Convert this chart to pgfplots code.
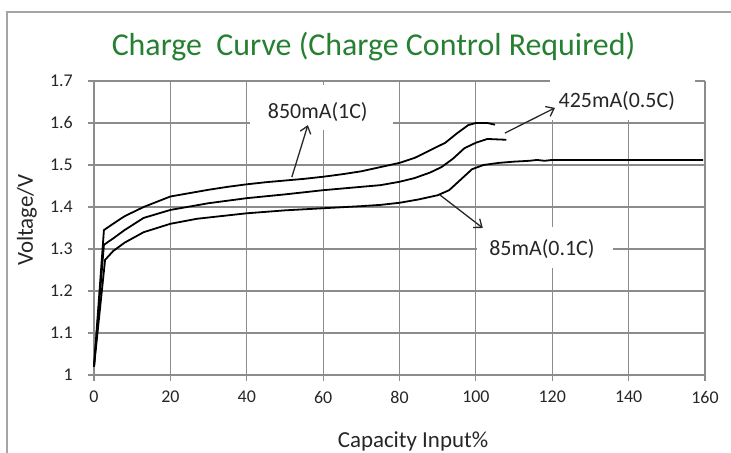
\documentclass[border=0pt]{standalone}
\usepackage{pgfplots}
\pgfplotsset{compat=1.18}
\usepackage{fontspec}
\setmainfont{Carlito}
\usetikzlibrary{arrows.meta}
\definecolor{gridgray}{RGB}{140,140,140}
\definecolor{framegray}{RGB}{165,165,165}
\definecolor{titlegreen}{RGB}{38,128,50}
\begin{document}
\begin{tikzpicture}[x=1bp,y=1bp]
\draw[framegray, line width=1.2bp] (7,-10) -- (7,441) -- (740,441);
\begin{axis}[
  at={(94bp,78bp)}, anchor=south west,
  width=611bp, height=294bp, scale only axis,
  xmin=0, xmax=160, ymin=1, ymax=1.7,
  xtick={0,20,...,160}, ytick={1,1.1,...,1.7},
  axis lines=left, axis line style={-, draw=gridgray, line width=1.2bp},
  grid=major, major grid style={draw=gridgray, line width=1.2bp},
  tick style={draw=gridgray, line width=1.2bp},
  tick align=outside, major tick length=6bp,
  /pgf/number format/assume math mode=true,
  /pgf/number format/fixed,
  tick label style={font=\fontsize{18}{20}\selectfont, text=black!85},
  yticklabel style={anchor=east, inner sep=0pt, xshift=-15bp},
  xticklabel style={anchor=north, inner sep=0pt, yshift=-10bp},
  clip=false,
]
% 850mA (1C)
\addplot[black, line width=1.8bp] coordinates {
(0,1.02) (2.6,1.345) (5,1.36) (8,1.378) (13,1.40) (20,1.425) (25,1.433) (30,1.441) (35,1.448) (40,1.454) (45,1.459) (50,1.463) (55,1.467) (60,1.472) (65,1.478) (70,1.485) (75,1.495) (80,1.505) (84,1.517) (88,1.535) (92,1.553) (95,1.575) (98,1.595) (100,1.600) (103,1.600) (105,1.596)
};
% 425mA (0.5C)
\addplot[black, line width=1.8bp] coordinates {
(0,1.02) (2.6,1.31) (5,1.325) (8,1.345) (13,1.374) (20,1.393) (25,1.401) (30,1.409) (40,1.421) (50,1.430) (60,1.440) (70,1.448) (75,1.452) (80,1.460) (84,1.469) (88,1.482) (91,1.495) (94,1.515) (97,1.540) (100,1.553) (103,1.562) (108,1.560)
};
% 85mA (0.1C)
\addplot[black, line width=1.8bp] coordinates {
(0,1.02) (2.9,1.274) (5,1.295) (8,1.315) (13,1.340) (20,1.360) (27,1.372) (40,1.385) (50,1.392) (60,1.397) (70,1.402) (75,1.405) (80,1.410) (85,1.418) (90,1.428) (93,1.440) (96,1.465) (99,1.490) (102,1.500) (106,1.505) (110,1.508) (114,1.510) (116,1.512) (118,1.510) (120,1.512) (159.5,1.512)
};
% label boxes
\fill[white] (axis cs:40.8,1.583) rectangle (axis cs:78.3,1.690);
\fill[white] (axis cs:119.4,1.607) rectangle (axis cs:157.3,1.707);
\fill[white] (axis cs:100.3,1.255) rectangle (axis cs:135.9,1.352);
\node[font=\fontsize{22}{24}\selectfont, text=black!85, inner sep=0pt] at (axis cs:58.6,1.626) {850mA(1C)};
\node[font=\fontsize{22}{24}\selectfont, text=black!85, inner sep=0pt] at (axis cs:136.9,1.652) {425mA(0.5C)};
\node[font=\fontsize{22}{24}\selectfont, text=black!85, inner sep=0pt] at (axis cs:117.3,1.300) {85mA(0.1C)};
% arrows
\draw[black!85, line width=1.3bp, -{Straight Barb[length=7bp,width=11bp]}] (axis cs:51.8,1.471) -- (axis cs:56,1.595);
\draw[black!85, line width=1.3bp, -{Straight Barb[length=7bp,width=11bp]}] (axis cs:107.6,1.576) -- (axis cs:120.7,1.636);
\draw[black!85, line width=1.3bp, -{Straight Barb[length=7bp,width=11bp]}] (axis cs:90.6,1.4286) -- (axis cs:101.8,1.350);
\end{axis}
\node[font=\fontsize{32}{34}\selectfont, text=titlegreen, anchor=base] at (373.5,397) {Charge\ \ Curve (Charge Control Required)};
\node[font=\fontsize{23}{25}\selectfont, text=black!85, anchor=base] at (413,5) {Capacity Input\%};
\node[font=\fontsize{23}{25}\selectfont, text=black!85, rotate=90] at (27,233) {Voltage/V};
\pgfresetboundingbox
\useasboundingbox (0,0) rectangle (731,453);
\end{tikzpicture}
\end{document}
